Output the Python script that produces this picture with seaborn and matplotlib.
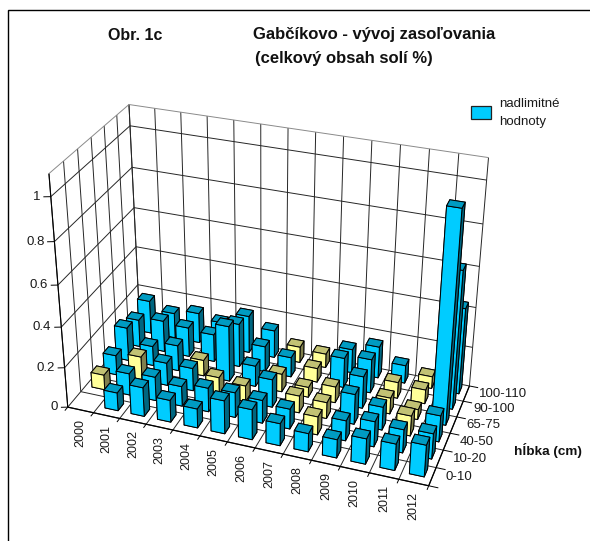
import numpy as np
import matplotlib
matplotlib.use("Agg")
import matplotlib.pyplot as plt
from matplotlib.patches import Rectangle
from mpl_toolkits.mplot3d import proj3d
import seaborn as sns

sns.set_theme(style="white")
plt.rcParams["font.family"] = ["Liberation Sans", "DejaVu Sans"]

years = ["2000", "2001", "2002", "2003", "2004", "2005", "2006",
         "2007", "2008", "2009", "2010", "2011", "2012"]
depths = ["0-10", "10-20", "40-50", "65-75", "90-100", "100-110"]
z_ticks = [0, 0.2, 0.4, 0.6, 0.8, 1]
z_top = 1.1

# Total salt content (%) per depth layer, one value per year
salt_0_10 = [np.nan, .09, .145, .11, .095, .165, .15, .11, .09, .09, .125, .13, .155]
salt_10_20 = [.075, .11, .12, .10, .12, .125, .115, .10, .09, .10, .125, .115, .125]
salt_40_50 = [.10, .12, .115, .115, .095, .08, .14, .085, .08, .15, .115, .10, .13]
salt_65_75 = [.17, .10, .13, .08, .28, .105, .09, .05, .08, .16, .08, .05, 1.02]
salt_90_100 = [.14, .16, .15, .14, .22, .13, .10, .07, .15, .17, .08, .07, .68]
salt_100_110 = [.17, .13, .155, .13, .19, .14, .08, .07, .12, .16, .09, .06, .43]
salt = [salt_0_10, salt_10_20, salt_40_50, salt_65_75, salt_90_100, salt_100_110]

# 1 marks values over the limit for that layer and year
over_0_10 = [0, 1, 1, 1, 1, 1, 1, 1, 1, 1, 1, 1, 1]
over_10_20 = [0, 1, 1, 1, 1, 1, 1, 1, 0, 1, 1, 1, 1]
over_40_50 = [1, 0, 1, 1, 0, 0, 1, 0, 0, 1, 1, 0, 1]
over_65_75 = [1, 1, 1, 0, 1, 1, 0, 0, 0, 1, 0, 0, 1]
over_90_100 = [1, 1, 1, 1, 1, 1, 1, 0, 1, 1, 0, 0, 1]
over_100_110 = [1, 1, 1, 1, 1, 1, 0, 0, 1, 1, 1, 0, 1]
over = [over_0_10, over_10_20, over_40_50, over_65_75, over_90_100, over_100_110]

BLUE = "#00CCFF"
YELLOW = "#FFFF99"
GRID = "#262626"
RIM = "#8a8a8a"
TEXT = "#1a1a1a"
BAR_W = 0.5
BAR_D = 0.45
BAR_BACK = 0.12
W, H = 590, 541

nx, ny = len(years), len(depths)

fig = plt.figure(figsize=(W / 100, H / 100), dpi=100)
ax = fig.add_axes([0, 0, 1, 1], projection="3d")
ax.set_axis_off()
ax.computed_zorder = False
ax.apply_aspect()

# Camera: a projective map solved from where the plot frame should land (pixels)
camera_points = [
    ((0, 0, 0), (68, 405)), ((0, 0, 0.2), (65, 365)), ((0, 0, 1), (51, 197)),
    ((0, 0, z_top), (49, 173)),
    ((nx, 0, 0), (428, 483)), ((6, 0, 0), (227, 450)),
    ((nx, ny, 0), (470, 385)), ((nx, ny, 0.2), (472, 347)),
    ((nx, ny, 1), (487, 180)), ((nx, ny, z_top), (489, 158)),
    ((0, ny, 0.2), (138, 285)), ((0, ny, 1), (130, 126)),
    ((0, ny, z_top), (128, 105)),
]
rows = []
for (X, Y, Z), (px, py) in camera_points:
    dy = H - py
    rows.append([X, Y, Z, 1, 0, 0, 0, 0, -px * X, -px * Y, -px * Z, -px])
    rows.append([0, 0, 0, 0, X, Y, Z, 1, -dy * X, -dy * Y, -dy * Z, -dy])
P = np.linalg.svd(np.array(rows, float))[2][-1].reshape(3, 4)
if P[2, 3] < 0:
    P = -P
P = ax.transData.inverted().get_matrix() @ P
M = np.vstack([P[0], P[1], [0, 0, 0, -1], P[2]])
ax.get_proj = lambda: M


def line(xs, ys, zs, color=GRID, lw=0.7, zorder=1):
    ax.plot(xs, ys, zs, color=color, lw=lw, zorder=zorder, solid_capstyle="butt")


def label(x, y, z, text, dx, dy, size=9, **kw):
    """Place text at a pixel offset from a point in plot coordinates."""
    u, v, _ = proj3d.proj_transform(x, y, z, M)
    ax.annotate(text, xy=(u, v), xycoords="data", xytext=(dx, dy),
                textcoords="offset pixels", fontsize=size, color=TEXT, zorder=500, **kw)


# Floor grid and walls
for i in range(nx + 1):
    line([i, i], [0, ny], [0, 0])
    line([i, i], [ny, ny], [0, z_top])
for j in range(ny + 1):
    line([0, nx], [j, j], [0, 0])
    line([0, 0], [j, j], [0, z_top])
for t in z_ticks[1:]:
    line([0, 0], [0, ny], [t, t])
    line([0, nx], [ny, ny], [t, t])
line([0, nx], [ny, ny], [z_top, z_top], color=RIM)
line([0, 0], [0, ny], [z_top, z_top], color=RIM)

# Axis lines and ticks
line([0, nx], [0, 0], [0, 0], color="black", lw=0.9, zorder=2)
line([nx, nx], [0, ny], [0, 0], color="black", lw=0.9, zorder=2)
line([0, 0], [0, 0], [0, z_top], color="black", lw=0.8, zorder=2)
for i in range(nx + 1):
    line([i, i], [0, -0.22], [0, 0], color="black", lw=0.7, zorder=2)
for j in range(ny + 1):
    line([nx, nx + 0.32], [j, j], [0, 0], color="black", lw=0.7, zorder=2)
for t in z_ticks:
    line([0, -0.22], [0, -0.09], [t, t], color="black", lw=0.7, zorder=2)

# Bars, painted from the far corner of the floor towards the viewer
order = 10
for j in range(ny - 1, -1, -1):
    for i in range(nx):
        value = salt[j][i]
        if np.isnan(value):
            continue
        base = np.array(matplotlib.colors.to_rgb(BLUE if over[j][i] else YELLOW))
        faces = [base * 0.5, base * 0.76, base, base * 0.5, base * 0.5, base * 0.5]
        ax.bar3d(i + (1 - BAR_W) / 2, j + (1 - BAR_D) / 2 + BAR_BACK, 0, BAR_W, BAR_D, value,
                 color=faces, shade=False, edgecolor="black", linewidth=0.7, zorder=order)
        order += 1

# Tick labels
for i, name in enumerate(years):
    label(i + 0.5, 0, 0, name, 0, -9, rotation=90, ha="center", va="top")
for j, name in enumerate(depths):
    label(nx, j + 0.5, 0, name, 13, 0, size=9.5, ha="left", va="center")
for t in z_ticks:
    label(0, 0, t, f"{t:g}", -10, 0, size=9.5, ha="right", va="center")

# Titles, axis caption, legend and the outer frame
fig.text(108 / W, 1 - 35 / H, "Obr. 1c", fontsize=11.5, fontweight="bold", va="center", color="#111111")
fig.text(253 / W, 1 - 35 / H, "Gabčíkovo - vývoj zasoľovania", fontsize=12,
         fontweight="bold", va="center", color="#111111")
fig.text(255 / W, 1 - 59 / H, "(celkový obsah solí %)", fontsize=12,
         fontweight="bold", va="center", color="#111111")
fig.text(514 / W, 1 - 450 / H, "hĺbka (cm)", fontsize=9.7, fontweight="bold", va="center", color="#111111")
fig.text(499 / W, 1 - 104 / H, "nadlimitné", fontsize=9.5, va="center", color=TEXT)
fig.text(499 / W, 1 - 122 / H, "hodnoty", fontsize=9.5, va="center", color=TEXT)
fig.add_artist(Rectangle((471 / W, 1 - 119 / H), 20 / W, 13 / H, transform=fig.transFigure,
                         facecolor=BLUE, edgecolor="#222222", lw=0.9))
fig.add_artist(Rectangle((7.5 / W, 1 - 560 / H), 600 / W, 550 / H, transform=fig.transFigure,
                         facecolor="none", edgecolor="black", lw=1.0))

fig.savefig("out.png", dpi=100, facecolor="white")
